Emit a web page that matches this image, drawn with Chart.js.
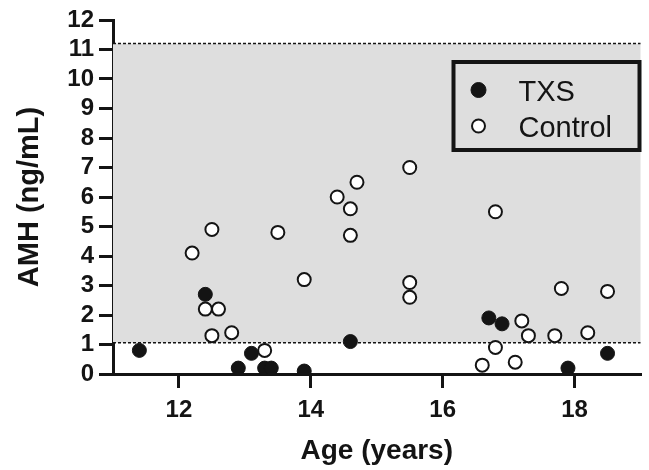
<!DOCTYPE html>
<html>
<head>
<meta charset="utf-8">
<script src="https://cdn.jsdelivr.net/npm/chart.js@4"></script>
<style>
  body { margin: 0; background: #fff; }
  #wrap { width: 649px; height: 470px; }
</style>
</head>
<body>
<div id="wrap"><canvas id="amhChart"></canvas></div>
<script>
// values
const txsAge = [11.4, 12.4, 12.9, 13.1, 13.3, 13.4, 13.9, 14.6, 16.7, 16.9, 17.9, 18.5];
const txsAmh = [0.8, 2.7, 0.2, 0.7, 0.2, 0.2, 0.1, 1.1, 1.9, 1.7, 0.2, 0.7];

const controlAge = [12.2, 12.4, 12.5, 12.5, 12.6, 12.8, 13.3, 13.5, 13.9, 14.4, 14.6, 14.6, 14.7,
  15.5, 15.5, 15.5, 16.6, 16.8, 16.8, 17.1, 17.2, 17.3, 17.7, 17.8, 18.2, 18.5];
const controlAmh = [4.1, 2.2, 4.9, 1.3, 2.2, 1.4, 0.8, 4.8, 3.2, 6.0, 5.6, 4.7, 6.5,
  7.0, 3.1, 2.6, 0.3, 5.5, 0.9, 0.4, 1.8, 1.3, 1.3, 2.9, 1.4, 2.8];

const refRange = [1.06, 11.2]; // normal range band
const xTicks = [12, 14, 16, 18];
const yTicks = [0, 1, 2, 3, 4, 5, 6, 7, 8, 9, 10, 11, 12];

const INK = "#141414";
const FONT = "'Liberation Sans', Arial, sans-serif";

const toPoints = (xs, ys) => xs.map((x, i) => ({ x: x, y: ys[i] }));

// grey band + dotted limits behind the points
const bandPlugin = {
  id: "band",
  beforeDatasetsDraw(chart) {
    const { ctx, chartArea, scales } = chart;
    const yLo = scales.y.getPixelForValue(refRange[0]);
    const yHi = scales.y.getPixelForValue(refRange[1]);
    ctx.save();
    ctx.fillStyle = "#dedede";
    ctx.fillRect(chartArea.left, yHi, chartArea.right - chartArea.left, yLo - yHi);
    ctx.strokeStyle = INK;
    ctx.lineWidth = 1.5;
    ctx.setLineDash([3, 2]);
    [yLo, yHi].forEach(y => {
      ctx.beginPath();
      ctx.moveTo(chartArea.left, y);
      ctx.lineTo(chartArea.right, y);
      ctx.stroke();
    });
    ctx.restore();
  }
};

// boxed legend in the top right corner
const boxLegend = {
  id: "boxLegend",
  afterDraw(chart) {
    const { ctx, chartArea } = chart;
    const right = chartArea.right - 1;
    const left = right - 186;
    const top = chartArea.top + 42;
    const bottom = top + 88;
    ctx.save();
    ctx.lineWidth = 4;
    ctx.strokeStyle = INK;
    ctx.strokeRect(left, top, right - left, bottom - top);
    ctx.font = "29px " + FONT;
    ctx.textBaseline = "alphabetic";
    ctx.fillStyle = INK;
    const order = [1, 0];
    order.forEach((idx, row) => {
      const ds = chart.data.datasets[idx];
      const cy = top + 28 + row * 36;
      ctx.beginPath();
      ctx.arc(left + 25, cy, idx === 1 ? 7.5 : 6.5, 0, Math.PI * 2);
      ctx.fillStyle = ds.backgroundColor;
      ctx.fill();
      ctx.lineWidth = ds.borderWidth;
      ctx.strokeStyle = ds.borderColor;
      ctx.stroke();
      ctx.fillStyle = INK;
      ctx.fillText(ds.label, left + 65, cy + 10.5);
    });
    ctx.restore();
  }
};

document.addEventListener("DOMContentLoaded", () => {
  const ctx = document.getElementById("amhChart").getContext("2d");

  new Chart(ctx, {
    type: "scatter",
    data: {
      datasets: [
        {
          label: "Control",
          data: toPoints(controlAge, controlAmh),
          backgroundColor: "#ffffff",
          borderColor: INK,
          borderWidth: 2,
          pointRadius: 6.5,
          order: 1,
        },
        {
          label: "TXS",
          data: toPoints(txsAge, txsAmh),
          backgroundColor: INK,
          borderColor: INK,
          borderWidth: 1,
          pointRadius: 7,
          order: 2,
        },
      ],
    },
    options: {
      responsive: true,
      maintainAspectRatio: false,
      animation: false,
      layout: { padding: { top: 20, right: 4, left: 0, bottom: 0 } },
      plugins: {
        legend: { display: false },
        tooltip: { enabled: false },
      },
      scales: {
        x: {
          type: "linear",
          min: 11,
          max: 19,
          afterBuildTicks: scale => { scale.ticks = xTicks.map(v => ({ value: v })); },
          afterFit: scale => { scale.height = 96; },
          border: { display: true, width: 3, color: INK },
          grid: { display: true, drawOnChartArea: false, drawTicks: true, tickLength: 14, lineWidth: 3, color: INK },
          ticks: {
            padding: 8,
            color: INK,
            autoSkip: false,
            font: { family: FONT, size: 24, weight: "bold" },
            maxRotation: 0,
          },
          title: {
            display: true,
            text: "Age (years)",
            color: INK,
            padding: { top: 0, bottom: 2 },
            font: { family: FONT, size: 28, weight: "bold" },
          },
        },
        y: {
          min: 0,
          max: 12,
          afterBuildTicks: scale => { scale.ticks = yTicks.map(v => ({ value: v })); },
          afterFit: scale => { scale.width = 113; },
          border: { display: true, width: 3, color: INK },
          grid: { display: true, drawOnChartArea: false, drawTicks: true, tickLength: 14, lineWidth: 3, color: INK },
          ticks: {
            padding: 5,
            color: INK,
            autoSkip: false,
            font: { family: FONT, size: 24, weight: "bold" },
          },
          title: {
            display: true,
            text: "AMH (ng/mL)",
            color: INK,
            padding: { top: 13, bottom: 0 },
            font: { family: FONT, size: 29, weight: "bold" },
          },
        },
      },
    },
    plugins: [bandPlugin, boxLegend],
  });
});
</script>
</body>
</html>
